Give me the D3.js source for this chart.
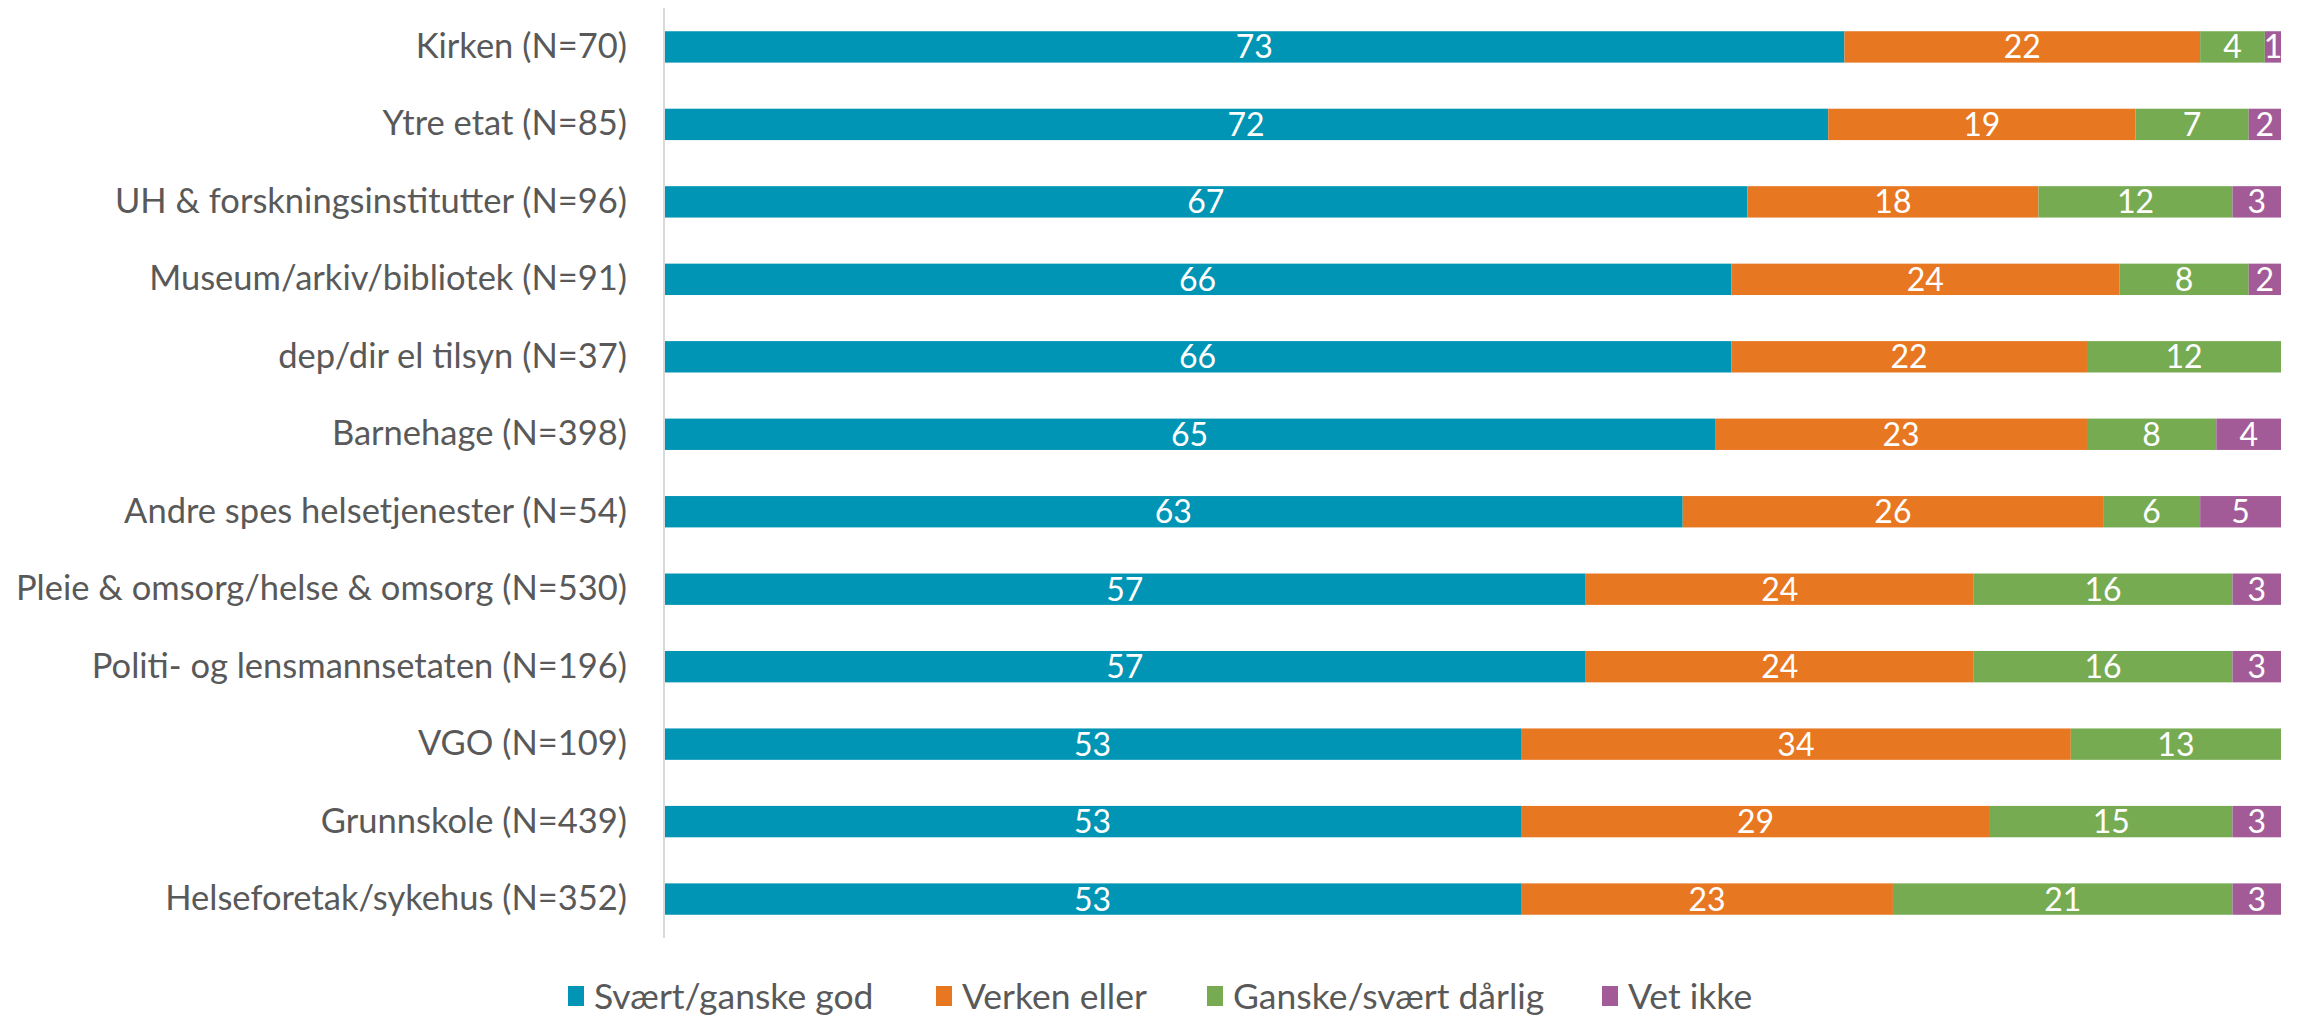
<!DOCTYPE html>
<html><head><meta charset="utf-8">
<script src="https://cdn.jsdelivr.net/npm/d3@7"></script>
<style>html,body{margin:0;padding:0;background:#fff;}svg{display:block;}</style>
</head><body>
<script>
const categories = ["Kirken (N=70)","Ytre etat (N=85)","UH & forskningsinstitutter (N=96)","Museum/arkiv/bibliotek (N=91)","dep/dir el tilsyn (N=37)","Barnehage (N=398)","Andre spes helsetjenester (N=54)","Pleie & omsorg/helse & omsorg (N=530)","Politi- og lensmannsetaten (N=196)","VGO (N=109)","Grunnskole (N=439)","Helseforetak/sykehus (N=352)"];
const seriesNames = ["Svært/ganske god","Verken eller","Ganske/svært dårlig","Vet ikke"];
const godVals = [73,72,67,66,66,65,63,57,57,53,53,53];
const verkenVals = [22,19,18,24,22,23,26,24,24,34,29,23];
const darligVals = [4,7,12,8,12,8,6,16,16,13,15,21];
const vetIkkeVals = [1,2,3,2,0,4,5,3,3,0,3,3];
const colors = ["#0095B4","#E87722","#76AB52","#A25B97"];

const W = 2303, H = 1018;
const svg = d3.select("body").append("svg").attr("width", W).attr("height", H);
const font = "'Source Sans Pro', Lato, 'Open Sans', sans-serif";

const x = d3.scaleLinear().domain([0,100]).range([664, 2281]);
const y = d3.scaleBand().domain(categories).range([8, 938]).paddingInner(0.595).paddingOuter(0.3);

const rows = categories.map((c,i)=>({cat:c, vals:[godVals[i],verkenVals[i],darligVals[i],vetIkkeVals[i]]}));
const stack = d3.stack().keys([0,1,2,3]).value((d,k)=>d.vals[k]);
const layers = stack(rows);

layers.forEach((layer, k) => {
  const g = svg.append("g");
  g.selectAll("rect").data(layer.filter(d=>d[1]-d[0]>0)).join("rect")
    .attr("x", d=>x(d[0])).attr("width", d=>x(d[1])-x(d[0]))
    .attr("y", d=>y(d.data.cat)).attr("height", y.bandwidth())
    .attr("fill", colors[k]);
  g.selectAll("text").data(layer.filter(d=>d[1]-d[0]>0)).join("text")
    .attr("x", d=>(x(d[0])+x(d[1]))/2)
    .attr("y", d=>y(d.data.cat)+y.bandwidth()/2)
    .attr("dy","0.36em")
    .attr("text-anchor","middle")
    .attr("fill","#fff")
    .style("font-family", font).style("font-size","32px")
    .text(d=>d[1]-d[0]);
});

// axis line
const yAxis = d3.axisLeft(y).tickSize(0).tickPadding(37);
const ga = svg.append("g").attr("transform","translate(664,0)").call(yAxis);
ga.select(".domain").attr("stroke","#d9d9d9").attr("stroke-width",2).attr("d","M0,8V938");
ga.selectAll("text").attr("fill","#595959").style("font-family",font).style("font-size","34.5px");

// legend
const legX = [568, 936, 1207, 1602];
const lg = svg.append("g");
seriesNames.forEach((n,i)=>{
  lg.append("rect").attr("x",legX[i]).attr("y",986).attr("width",16).attr("height",20).attr("fill",colors[i]);
  lg.append("text").attr("x",legX[i]+26).attr("y",996).attr("dy","0.36em")
    .attr("fill","#595959").style("font-family",font).style("font-size","35.5px").text(n);
});
</script>
</body></html>
